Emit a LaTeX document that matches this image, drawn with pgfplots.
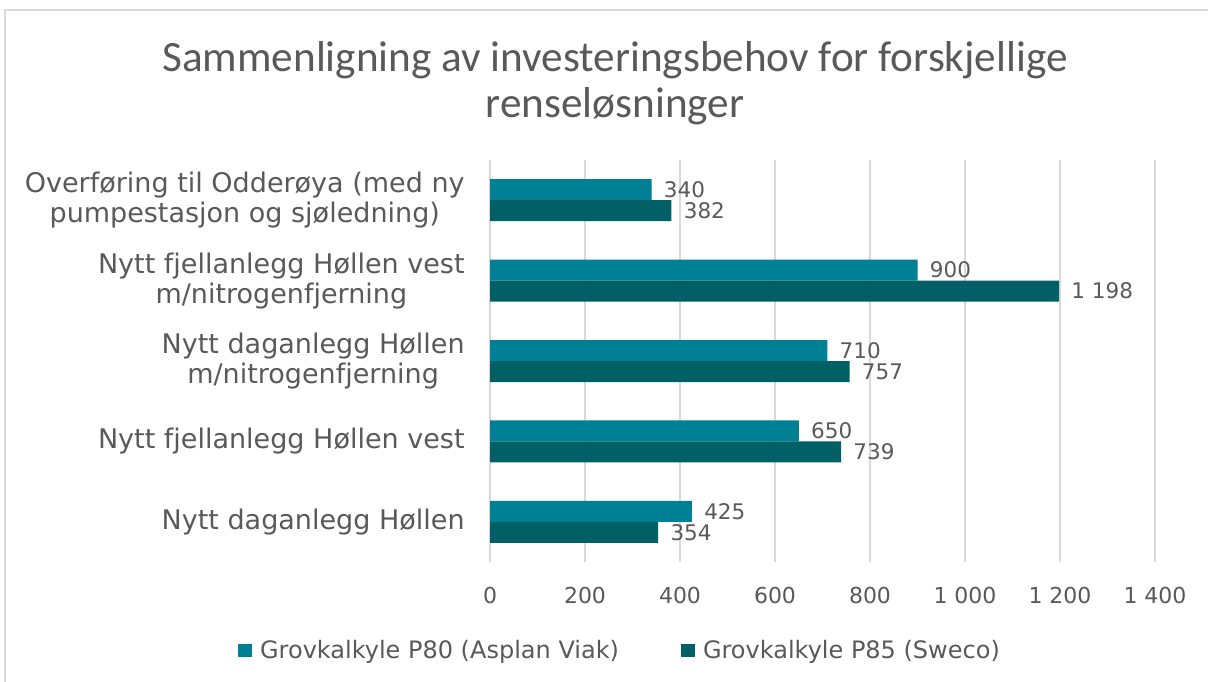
\documentclass[border=0pt]{standalone}
\usepackage{fontspec}
\setmainfont{DejaVu Sans}
\newfontfamily\titlefont{Carlito}
\usepackage{pgfplots}
\pgfplotsset{compat=1.18}

\definecolor{ptwo}{RGB}{0,128,148}
\definecolor{pfive}{RGB}{0,96,102}
\definecolor{txt}{RGB}{89,89,89}
\definecolor{gridc}{RGB}{217,217,217}

\begin{document}
\begin{tikzpicture}
\useasboundingbox (0pt,0pt) rectangle (604pt,-340.5pt);
\draw[gridc, line width=0.75pt] (2.5pt,-5pt) rectangle (620pt,-360pt);

\node[anchor=base, txt, font=\titlefont\fontsize{21.6}{24}\selectfont] at (307.5pt,-35.5pt)
  {Sammenligning av investeringsbehov for forskjellige};
\node[anchor=base, txt, font=\titlefont\fontsize{21.6}{24}\selectfont] at (307.5pt,-58.5pt)
  {renseløsninger};

\begin{axis}[
    at={(245pt,-281pt)}, anchor=south west,
    scale only axis,
    width=332.5pt, height=201pt,
    xbar, bar width=10.5pt,
    xmin=0, xmax=1400,
    ymin=-0.5, ymax=4.5,
    xtick={0,200,...,1400},
    ytick={0,1,2,3,4},
    yticklabels={
        Nytt daganlegg Høllen,
        Nytt fjellanlegg Høllen vest,
        Nytt daganlegg Høllen\\m/nitrogenfjerning,
        Nytt fjellanlegg Høllen vest\\m/nitrogenfjerning,
        Overføring til Odderøya (med ny\\pumpestasjon og sjøledning)},
    major tick length=0pt,
    axis line style={draw=none},
    xmajorgrids, grid style={gridc, line width=0.75pt},
    /pgf/number format/.cd, 1000 sep={\ }, assume math mode=true, /pgfplots/.cd,
    xticklabel style={txt, font=\fontsize{11}{13}\selectfont, inner sep=0pt, yshift=-12.5pt},
    yticklabel style={txt, font=\fontsize{13.5}{15}\selectfont, align=center, inner sep=0pt, xshift=-12.5pt},
    nodes near coords,
    nodes near coords style={txt, font=\fontsize{10.75}{12}\selectfont, anchor=west, inner sep=0pt, xshift=6pt},
    legend columns=2,
    legend style={at={(0.197,-0.22)}, anchor=center, draw=none, fill=none,
        font=\fontsize{12}{14}\selectfont, text=txt,
        /tikz/every odd column/.append style={column sep=2pt},
        /tikz/every even column/.append style={column sep=29pt}},
    legend image code/.code={\fill[#1] (0pt,-3.25pt) rectangle (7pt,3.25pt);},
]
\addplot[fill=ptwo, draw=none, bar shift=5.25pt] coordinates {
    (425,0) (650,1) (710,2) (900,3) (340,4)
};
\addplot[fill=pfive, draw=none, bar shift=-5.25pt] coordinates {
    (354,0) (739,1) (757,2) (1198,3) (382,4)
};
\legend{Grovkalkyle P80 (Asplan Viak), Grovkalkyle P85 (Sweco)}
\end{axis}
\end{tikzpicture}
\end{document}
